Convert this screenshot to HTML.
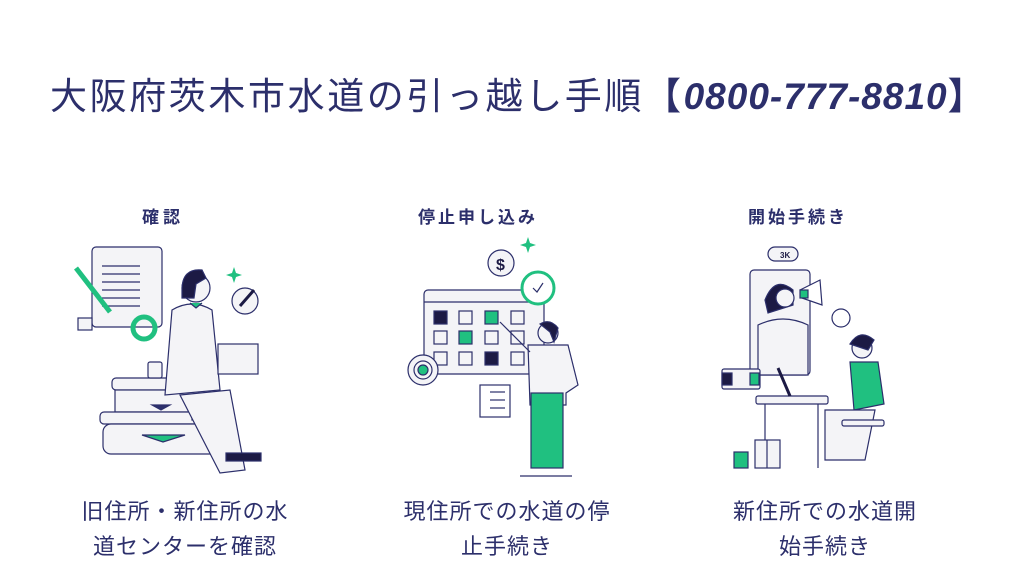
<!DOCTYPE html>
<html><head><meta charset="utf-8"><style>
body{margin:0;width:1024px;height:576px;background:#fff;overflow:hidden;position:relative;font-family:"Liberation Sans","Noto Sans CJK JP",sans-serif;color:#2c2f6b}
.t{position:absolute;white-space:nowrap}
</style></head><body>
<div class="t" style="left:50px;top:66px;font-size:37px;letter-spacing:2.6px;">大阪府茨木市水道の引っ越し手順<span style="font-weight:bold">【</span><i style="font-weight:bold;letter-spacing:1px">0800-777-8810</i><span style="font-weight:bold">】</span></div>
<div class="t" style="left:142px;top:203px;font-size:17px;font-weight:bold;letter-spacing:4px">確認</div>
<div class="t" style="left:418px;top:203px;font-size:17px;font-weight:bold;letter-spacing:3px">停止申し込み</div>
<div class="t" style="left:748px;top:203px;font-size:17px;font-weight:bold;letter-spacing:3px">開始手続き</div>
<div class="t" style="left:70px;top:494px;font-size:22px;line-height:35px;text-align:center;width:230px;letter-spacing:1px">旧住所・新住所の水<br>道センターを確認</div>
<div class="t" style="left:392px;top:494px;font-size:22px;line-height:35px;text-align:center;width:230px;letter-spacing:1px">現住所での水道の停<br>止手続き</div>
<div class="t" style="left:718px;top:494px;font-size:22px;line-height:35px;text-align:center;width:214px;letter-spacing:1px">新住所での水道開<br>始手続き</div>
<svg width="1024" height="576" style="position:absolute;left:0;top:0" fill="#f4f4f7" stroke="#2c2f6b" stroke-width="1.2">
<!-- panel 1 -->
<rect x="92" y="247" width="70" height="80" rx="4"/>
<rect x="78" y="318" width="14" height="12"/>
<line x1="102" y1="266" x2="140" y2="266"/><line x1="102" y1="274" x2="140" y2="274"/><line x1="102" y1="282" x2="140" y2="282"/><line x1="102" y1="290" x2="140" y2="290"/><line x1="102" y1="298" x2="140" y2="298"/><line x1="102" y1="306" x2="140" y2="306"/>
<line x1="76" y1="268" x2="110" y2="312" stroke="#20c080" stroke-width="5"/>
<circle cx="144" cy="328" r="11" fill="none" stroke="#20c080" stroke-width="5"/>
<rect x="112" y="378" width="100" height="12" rx="4"/>
<rect x="115" y="390" width="95" height="22"/>
<rect x="100" y="412" width="130" height="12" rx="4"/>
<rect x="103" y="424" width="125" height="30" rx="8"/>
<polygon points="152,405 170,405 161,410" fill="#2c2f6b"/>
<polygon points="142,435 185,435 163,442" fill="#20c080"/>
<rect x="192" y="398" width="12" height="22" fill="#20c080"/>
<rect x="148" y="362" width="14" height="16" rx="2"/>
<path d="M172 310 q20 -12 40 0 l8 80 l-55 5 z"/>
<path d="M180 395 l50 -5 l15 80 l-25 3 z"/>
<circle cx="196" cy="288" r="14"/>
<path d="M182 290 q0 -22 20 -20 l4 8 l-10 6 l-2 14 l-12 0 z" fill="#1c1a44"/>
<path d="M190 303 l6 5 l6 -5" fill="#20c080"/>
<rect x="218" y="344" width="40" height="30"/>
<rect x="226" y="453" width="35" height="8" fill="#1c1a44"/>
<circle cx="245" cy="301" r="13"/>
<line x1="240" y1="306" x2="254" y2="290" stroke="#1c1a44" stroke-width="3"/>
<path d="M232 273 l2 -6 l2 6 l6 2 l-6 2 l-2 6 l-2 -6 l-6 -2 z" fill="#20c080" stroke="none"/>
<!-- panel 2 -->
<rect x="424" y="290" width="120" height="84" rx="4"/>
<line x1="424" y1="302" x2="544" y2="302"/>
<rect x="434" y="311" width="13" height="13" fill="#1c1a44"/><rect x="459" y="311" width="13" height="13"/><rect x="485" y="311" width="13" height="13" fill="#20c080"/><rect x="511" y="311" width="13" height="13"/>
<rect x="434" y="331" width="13" height="13"/><rect x="459" y="331" width="13" height="13" fill="#20c080"/><rect x="485" y="331" width="13" height="13"/><rect x="511" y="331" width="13" height="13"/>
<rect x="434" y="352" width="13" height="13"/><rect x="459" y="352" width="13" height="13"/><rect x="485" y="352" width="13" height="13" fill="#1c1a44"/><rect x="511" y="352" width="13" height="13"/>
<circle cx="501" cy="263" r="13"/><text x="496" y="270" font-size="16" fill="#1c1a44" stroke="none" font-weight="bold">$</text>
<circle cx="538" cy="288" r="16" fill="#fff" stroke="#20c080" stroke-width="3"/>
<path d="M533 288 l4 4 l6 -9" fill="none"/>
<circle cx="423" cy="370" r="15"/><circle cx="423" cy="370" r="9"/><circle cx="423" cy="370" r="5" fill="#20c080"/>
<rect x="480" y="385" width="30" height="32" fill="#fff"/>
<line x1="490" y1="392" x2="505" y2="392"/><line x1="490" y1="400" x2="505" y2="400"/><line x1="490" y1="408" x2="505" y2="408"/>
<circle cx="548" cy="333" r="10"/>
<path d="M540 324 q10 -6 18 4 l-4 14 l-4 -10 z" fill="#1c1a44"/>
<path d="M528 345 l40 0 l10 40 l-12 8 l0 12 l-36 0 z"/>
<line x1="530" y1="352" x2="500" y2="322"/>
<rect x="531" y="393" width="32" height="75" fill="#20c080"/>
<line x1="520" y1="476" x2="572" y2="476"/>
<path d="M526 243 l2 -6 l2 6 l6 2 l-6 2 l-2 6 l-2 -6 l-6 -2 z" fill="#20c080" stroke="none"/>
<!-- panel 3 -->
<rect x="750" y="270" width="60" height="105" rx="4"/>
<rect x="768" y="247" width="30" height="14" rx="7"/><text x="780" y="258" font-size="8" fill="#1c1a44" stroke="none" font-weight="bold">3K</text>
<path d="M765 300 q10 -25 28 -10 l0 15 l-25 8 z" fill="#1c1a44"/>
<circle cx="785" cy="298" r="9"/>
<path d="M758 325 q25 -12 50 0 l0 50 l-50 0 z"/>
<polygon points="800,290 820,280 822,305 802,298" fill="#fff"/>
<rect x="800" y="290" width="8" height="8" fill="#20c080"/>
<circle cx="841" cy="318" r="9" fill="#fff"/>
<rect x="722" y="369" width="38" height="20" rx="2"/>
<rect x="722" y="373" width="10" height="12" fill="#1c1a44"/><rect x="750" y="373" width="9" height="12" fill="#20c080"/>
<rect x="756" y="396" width="72" height="8" rx="2"/>
<line x1="765" y1="404" x2="765" y2="468"/><line x1="818" y1="404" x2="818" y2="468"/>
<line x1="778" y1="368" x2="790" y2="396" stroke="#1c1a44" stroke-width="3"/>
<circle cx="862" cy="348" r="10"/>
<path d="M850 344 q10 -16 24 -4 l-6 10 z" fill="#1c1a44"/>
<path d="M850 362 l28 0 l6 42 l-30 6 z" fill="#20c080"/>
<path d="M825 410 l50 0 l-10 50 l-40 0 z"/>
<rect x="842" y="420" width="42" height="6" rx="2"/>
<rect x="755" y="440" width="25" height="28"/><line x1="767" y1="440" x2="767" y2="468"/>
<rect x="734" y="452" width="14" height="16" fill="#20c080"/>
</svg>
</body></html>
